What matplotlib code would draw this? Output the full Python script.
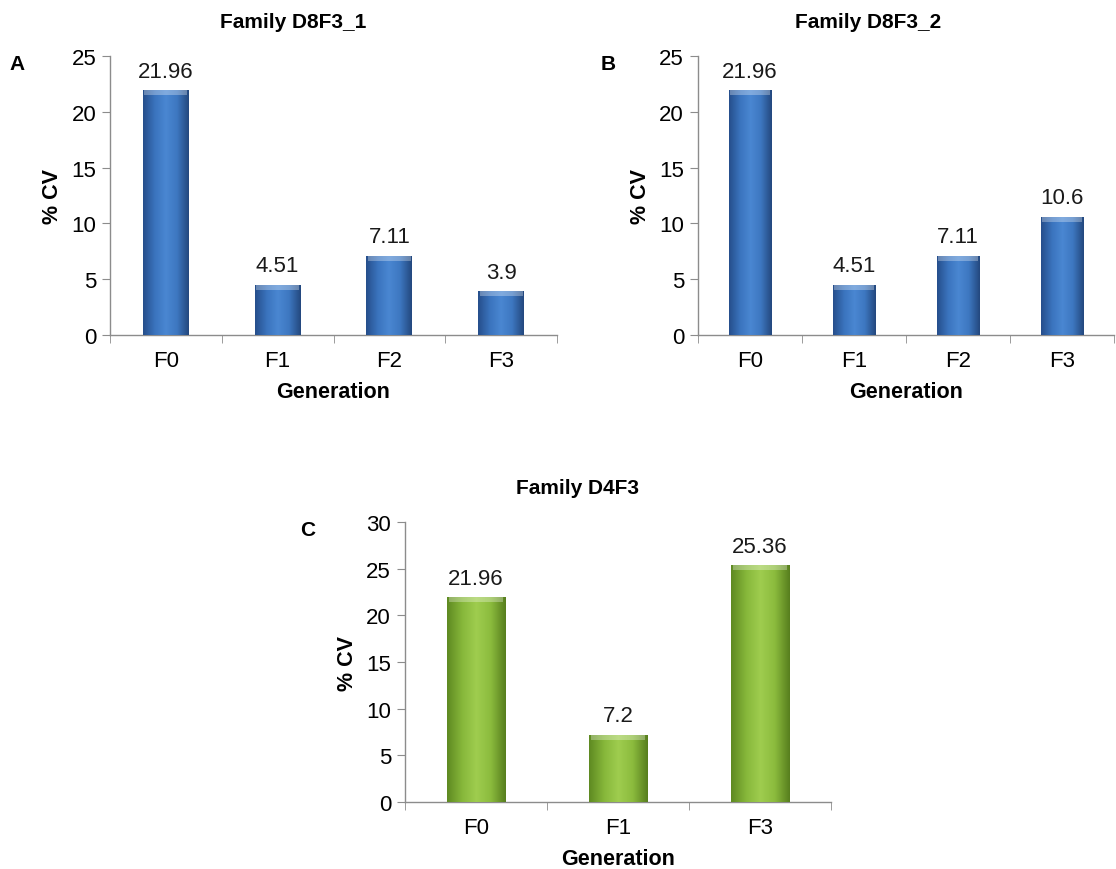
import numpy as np
import matplotlib
matplotlib.use("Agg")
import matplotlib.pyplot as plt
from matplotlib.colors import LinearSegmentedColormap

# ---- data ----
gen_ab = ["F0", "F1", "F2", "F3"]
cv_a = [21.96, 4.51, 7.11, 3.9]
cv_b = [21.96, 4.51, 7.11, 10.6]
gen_c = ["F0", "F1", "F3"]
cv_c = [21.96, 7.2, 25.36]

plt.rcParams["font.family"] = ["Liberation Sans", "DejaVu Sans"]

BLUE = ["#264f8c", "#3a73bd", "#4a87d2", "#3d77c0", "#24497f"]
GREEN = ["#5f8a22", "#86b73a", "#9fcd4f", "#8bbb3d", "#587f1e"]
GRAY = "#8c8c8c"


def shaded_bars(ax, labels, vals, colors, ymax):
    x = np.arange(len(labels))
    bars = ax.bar(x, vals, width=0.41, color=colors[2], zorder=2)
    cmap = LinearSegmentedColormap.from_list("shade", colors)
    grad = np.tile(np.linspace(0, 1, 64), (32, 1))
    bevel = 0.018 * ymax
    for b in bars:
        bx, bw, bh = b.get_x(), b.get_width(), b.get_height()
        im = ax.imshow(grad, cmap=cmap, aspect="auto", origin="lower",
                       extent=(bx, bx + bw, 0, bh), zorder=3)
        im.set_clip_path(b)
        # light bevel along the top edge
        ax.fill_between([bx + 0.03 * bw, bx + 0.97 * bw], bh - bevel, bh,
                        color="white", alpha=0.3, lw=0, zorder=4)
        ax.text(bx + bw / 2, bh + 0.03 * ymax, f"{bh:g}", ha="center",
                va="bottom", fontsize=16, color="#1a1a1a", zorder=5)
    return x


def style_axis(ax, labels, ymax, ystep):
    n = len(labels)
    ax.set_xlim(-0.5, n - 0.5)
    ax.set_ylim(0, ymax)
    ax.set_yticks(np.arange(0, ymax + 0.1, ystep))
    ax.set_xticks(np.arange(n))
    ax.set_xticklabels(labels)
    ax.set_xticks(np.arange(-0.5, n, 1.0), minor=True)
    for s in ["top", "right"]:
        ax.spines[s].set_visible(False)
    for s in ["left", "bottom"]:
        ax.spines[s].set_color(GRAY)
        ax.spines[s].set_linewidth(1.0)
    ax.tick_params(axis="y", length=6, color=GRAY, labelsize=16, pad=4)
    ax.tick_params(axis="x", which="major", length=0, labelsize=16, pad=11)
    ax.tick_params(axis="x", which="minor", length=6, color=GRAY)
    ax.set_ylabel("% CV", fontsize=15.5, fontweight="bold", labelpad=6)
    ax.set_xlabel("Generation", fontsize=15.5, fontweight="bold", labelpad=7)


fig = plt.figure(figsize=(11.16, 8.7), dpi=100)

ax_a = fig.add_axes([0.0986, 0.6138, 0.4005, 0.3207])
ax_b = fig.add_axes([0.6254, 0.6138, 0.3728, 0.3207])
ax_c = fig.add_axes([0.3629, 0.0770, 0.3817, 0.3218])

shaded_bars(ax_a, gen_ab, cv_a, BLUE, 25)
style_axis(ax_a, gen_ab, 25, 5)
shaded_bars(ax_b, gen_ab, cv_b, BLUE, 25)
style_axis(ax_b, gen_ab, 25, 5)
shaded_bars(ax_c, gen_c, cv_c, GREEN, 30)
style_axis(ax_c, gen_c, 30, 5)

fig.text(293 / 1116, 1 - 22 / 870, "Family D8F3_1", ha="center", va="center",
         fontsize=15, fontweight="bold")
fig.text(868 / 1116, 1 - 22 / 870, "Family D8F3_2", ha="center", va="center",
         fontsize=15, fontweight="bold")
fig.text(578 / 1116, 1 - 488 / 870, "Family D4F3", ha="center", va="center",
         fontsize=15, fontweight="bold")

fig.text(17 / 1116, 1 - 65 / 870, "A", ha="center", va="center",
         fontsize=15, fontweight="bold")
fig.text(608 / 1116, 1 - 65 / 870, "B", ha="center", va="center",
         fontsize=15, fontweight="bold")
fig.text(308 / 1116, 1 - 530 / 870, "C", ha="center", va="center",
         fontsize=15, fontweight="bold")

fig.savefig("out.png", dpi=100)
